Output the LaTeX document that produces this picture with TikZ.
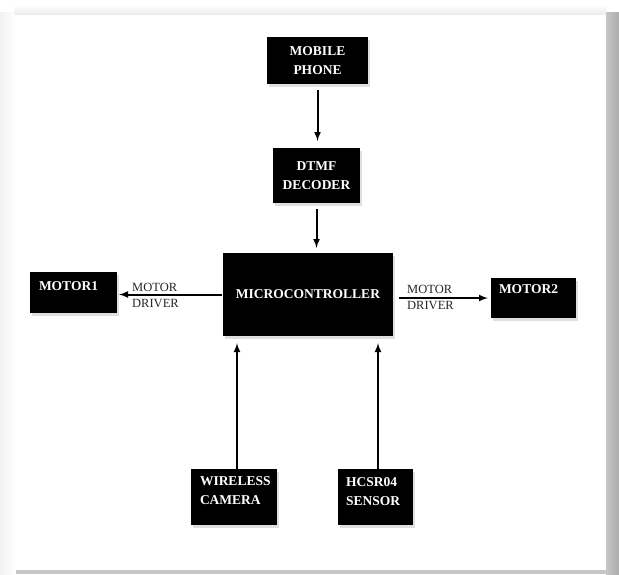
\documentclass[tikz,border=0pt]{standalone}
\usepackage{fontspec}
\setmainfont{Liberation Serif}
\usetikzlibrary{positioning}
\usetikzlibrary{arrows}
\usetikzlibrary{shadows}

\begin{document}
\begin{tikzpicture}[x=1pt,y=-1pt,
    blk/.style={fill=black,text=white,font=\bfseries\fontsize{13.5}{19}\selectfont,align=center,inner sep=2pt,
        drop shadow={shadow xshift=2pt,shadow yshift=-3pt,fill=gray!25,opacity=1}},
    lbl/.style={text=white,font=\bfseries\fontsize{13.5}{19}\selectfont,align=left,anchor=north west,inner sep=0pt},
    drv/.style={text=black!85,font=\fontsize{12.5}{16}\selectfont,align=left,anchor=west,inner sep=0pt},
    arr/.style={-latex,line width=2pt}]
    % page and its shadow
    \useasboundingbox (0,0) rectangle (619,574);
    \fill[white] (0,0) rectangle (619,574);
    \shade[left color=gray!10,right color=white] (0,12) rectangle (16,574);
    \shade[top color=white,bottom color=gray!14] (14,4) rectangle (606,14);
    \shade[left color=gray!45,right color=gray!65] (606,12) rectangle (619,574);
    \fill[gray!45] (16,570) rectangle (606,574);
    % blocks
    \node[blk,minimum width=101pt,minimum height=47pt] (phone) at (317.5,60.5) {MOBILE\\PHONE};
    \node[blk,minimum width=87pt,minimum height=55pt] (dtmf) at (316.5,175.5) {DTMF\\DECODER};
    \node[blk,minimum width=170pt,minimum height=83pt] (mcu) at (308,294.5) {MICROCONTROLLER};
    \node[blk,minimum width=87pt,minimum height=41pt,
        label={[lbl,xshift=9pt,yshift=-10pt]north west:MOTOR1}] (motorone) at (73.5,292.5) {};
    \node[blk,minimum width=85pt,minimum height=40pt,
        label={[lbl,xshift=8pt,yshift=-7pt]north west:MOTOR2}] (motortwo) at (533.5,298) {};
    \node[blk,minimum width=86pt,minimum height=56pt,
        label={[lbl,xshift=9pt,yshift=-8pt]north west:WIRELESS\\CAMERA}] (camera) at (234,497) {};
    \node[blk,minimum width=75pt,minimum height=56pt,
        label={[lbl,xshift=8pt,yshift=-9pt]north west:HCSR04\\SENSOR}] (sensor) at (375.5,497) {};
    % driver labels
    \node[drv] (drvleft) at (132,295) {MOTOR\\DRIVER};
    \node[drv] (drvright) at (407,297.5) {MOTOR\\DRIVER};
    % connections
    \draw[arr,shorten <=6pt,shorten >=7pt] (phone.south) -- (phone.south |- dtmf.north);
    \draw[arr,shorten <=6pt,shorten >=5pt] (dtmf.south) -- (dtmf.south |- mcu.north);
    \draw[arr,shorten <=1pt,shorten >=2pt] (mcu.west) -- (mcu.west -| motorone.east);
    \draw[arr,shorten <=6pt,shorten >=3pt] (mcu.east |- motortwo.west) -- (motortwo.west);
    \draw[arr,shorten >=7pt] ([xshift=3pt]camera.north) -- ([xshift=3pt]camera.north |- mcu.south);
    \draw[arr,shorten >=7pt] ([xshift=2.5pt]sensor.north) -- ([xshift=2.5pt]sensor.north |- mcu.south);
\end{tikzpicture}
\end{document}
